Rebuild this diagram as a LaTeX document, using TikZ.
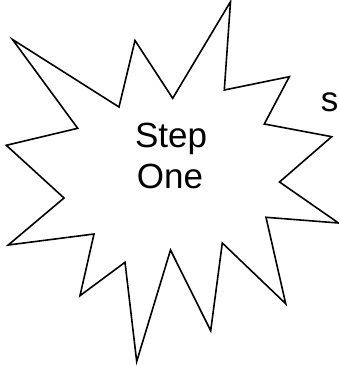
\documentclass[tikz,border=0pt]{standalone}
\usepackage{fontspec}
\setmainfont{Liberation Sans}
\begin{document}
\begin{tikzpicture}[x=1pt,y=-1pt,
  burst/.style={draw=black,line width=1.6pt,line join=miter,fill=white},
  label/.style={font=\fontsize{35}{41}\selectfont,inner sep=0pt,anchor=base}]
\useasboundingbox (0,0) rectangle (339,366);
\draw[burst] (12.5,39.5) -- (119,107) -- (135,40.5) -- (172.7,98.3) -- (230.5,1.7)
  -- (224.3,90) -- (289.3,76.7) -- (264.3,124) -- (331.7,136.7) -- (279.5,182)
  -- (338.5,223) -- (266,217.3) -- (285.7,303.7) -- (222.3,243) -- (210.7,330.7)
  -- (170.5,250) -- (136.7,361.5) -- (125,262.3) -- (80,295.7) -- (94,234)
  -- (8.3,245) -- (64,198) -- (6.3,145.3) -- (77.7,128.3) -- cycle;
\node[label] (step) at (171,147) {Step};
\node[label] (one) at (170,188) {One};
\node[label] (s) at (329.5,112) {s};
\end{tikzpicture}
\end{document}
